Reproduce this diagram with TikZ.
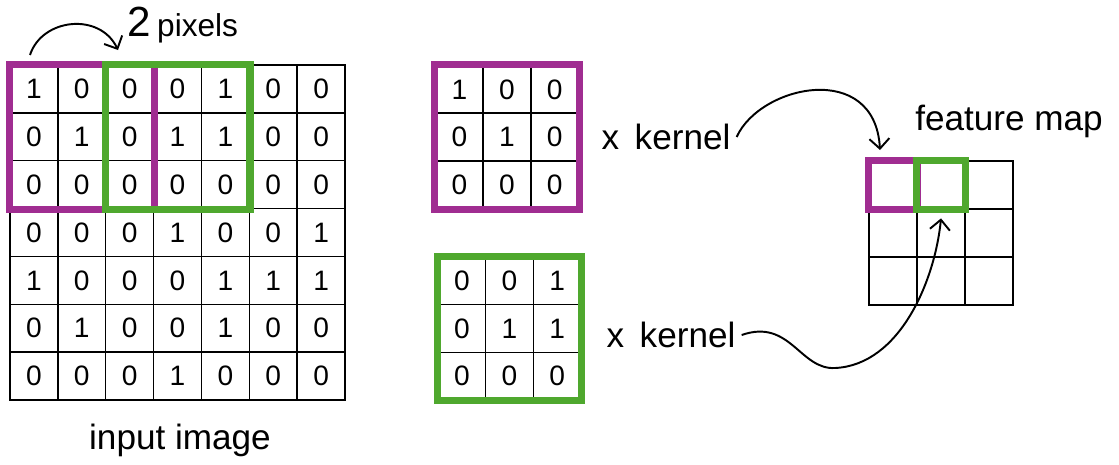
\documentclass[tikz,border=0pt]{standalone}
\usepackage{fontspec}
\setmainfont{Liberation Sans}
\usetikzlibrary{arrows.meta}
\definecolor{winpurple}{HTML}{A02D91}
\definecolor{wingreen}{HTML}{4FA82E}
\tikzset{
  cell/.style={draw, line width=0.8pt, minimum size=0.957cm, inner sep=0pt, font=\fontsize{16}{16}\selectfont},
  purplebox/.style={draw=winpurple, line width=4pt},
  greenbox/.style={draw=wingreen, line width=4pt},
  hand/.style={line width=1.1pt, -{Straight Barb[length=2mm,width=4mm]}},
  handtext/.style={font=\fontsize{20}{20}\selectfont}
}
\begin{document}
\begin{tikzpicture}[x=0.02cm,y=-0.02cm]
  \useasboundingbox (0,0) rectangle (1119,464);
  % input image, 7x7
  \foreach \row [count=\i] in {{1,0,0,0,1,0,0},{0,1,0,1,1,0,0},{0,0,0,0,0,0,0},{0,0,0,1,0,0,1},{1,0,0,0,1,1,1},{0,1,0,0,1,0,0},{0,0,0,1,0,0,0}}
    \foreach \v [count=\j] in \row
      \node[cell] (in-\i-\j) at ({10+47.86*(\j-.5)},{65+47.86*(\i-.5)}) {\v};
  \node[handtext] (inlab) at (180,440) {input image};
  % the two kernels
  \foreach \row [count=\i] in {{1,0,0},{0,1,0},{0,0,0}}
    \foreach \v [count=\j] in \row
      \node[cell] (ka-\i-\j) at ({435.5+47.67*(\j-.5)},{65.5+47.67*(\i-.5)}) {\v};
  \foreach \row [count=\i] in {{0,0,1},{0,1,1},{0,0,0}}
    \foreach \v [count=\j] in \row
      \node[cell] (kb-\i-\j) at ({438+47.67*(\j-.5)},{257+47.67*(\i-.5)}) {\v};
  % feature map, 3x3 empty
  \foreach \i in {1,2,3}
    \foreach \j in {1,2,3}
      \node[cell] (fm-\i-\j) at ({869+48*(\j-.5)},{161+48*(\i-.5)}) {};
  % windows
  \draw[purplebox] (in-1-1.north west) rectangle (in-3-3.south east);
  \draw[greenbox]  (in-1-3.north west) rectangle (in-3-5.south east);
  \draw[purplebox] (ka-1-1.north west) rectangle (ka-3-3.south east);
  \draw[greenbox]  (kb-1-1.north west) rectangle (kb-3-3.south east);
  \draw[purplebox] (fm-1-1.north west) rectangle (fm-1-1.south east);
  \draw[greenbox]  (fm-1-2.north west) rectangle (fm-1-2.south east);
  % labels
  \node[handtext] (steplab) at (183,25) {{\fontsize{24}{24}\selectfont 2}\,{\fontsize{18}{18}\selectfont pixels}};
  \node[handtext] (kalab) at (666,137) {x\, kernel};
  \node[handtext] (kblab) at (671,335) {x\, kernel};
  \node[handtext] (fmlab) at (1009,121) {feature map};
  % arrows
  \coordinate (stepA) at (30,55);
  \coordinate (stepB) at (118,50);
  \coordinate (fmtop) at (880,150);
  \draw[hand] (stepA) .. controls (42,18) and (100,12) .. (stepB);
  \draw[hand] (kalab.east) .. controls (760,85) and (875,60) .. (fmtop);
  \draw[hand] (kblab.east) .. controls (790,318) and (800,370) .. (835,368)
    .. controls (900,365) and (935,280) .. ([yshift=-0.2cm]fm-2-2.north);
\end{tikzpicture}
\end{document}
